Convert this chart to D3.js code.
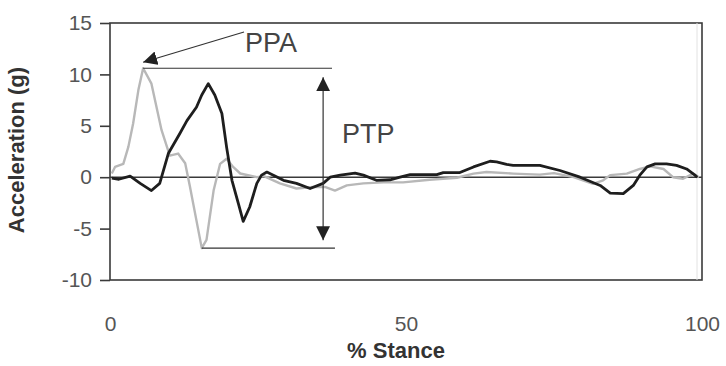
<!DOCTYPE html>
<html>
<head>
<meta charset="utf-8">
<script src="https://cdn.jsdelivr.net/npm/d3@7"></script>
<style>
  body { margin: 0; background: #fff; }
  svg { display: block; }
  text { font-family: "Liberation Sans", Arial, sans-serif; }
</style>
</head>
<body>
<svg id="chart" width="726" height="366"></svg>
<script>
// Acceleration vs % stance, two traces plus PPA / PTP annotation

const yTicks = [-10, -5, 0, 5, 10, 15];
const xTicks = [0, 50, 100];

// dark trace [% stance, g]
const darkTrace = [
  [0.3, -0.1], [1.5, -0.2], [3.4, 0.1], [5.1, -0.6], [7.0, -1.3], [8.4, -0.6],
  [9.85, 2.3], [11.8, 4.25], [13.0, 5.5], [14.6, 6.8], [15.5, 8.0], [16.6, 9.1],
  [17.7, 8.0], [18.9, 6.2], [19.7, 2.9], [20.6, -0.3], [21.7, -2.6], [22.5, -4.3],
  [23.6, -2.9], [24.8, -0.6], [25.6, 0.2], [26.5, 0.5], [27.6, 0.2], [29.3, -0.3],
  [31.5, -0.6], [33.8, -1.1], [36.0, -0.6], [37.2, 0.0], [38.9, 0.2], [41.4, 0.4],
  [42.8, 0.2], [45.0, -0.3], [47.3, -0.25], [49.0, 0.0], [50.7, 0.25], [55.2, 0.25],
  [56.3, 0.45], [59.1, 0.45], [61.4, 1.0], [64.2, 1.55], [65.3, 1.5], [67.0, 1.25],
  [68.1, 1.15], [72.6, 1.15], [76.0, 0.65], [79.4, 0.0], [82.8, -0.8], [84.5, -1.55],
  [86.7, -1.6], [88.4, -0.8], [89.5, 0.2], [90.7, 1.0], [92.1, 1.3], [94.0, 1.3],
  [95.7, 1.15], [97.4, 0.8], [98.8, 0.2], [99.2, 0.0]
];

// light trace [% stance, g]
const lightTrace = [
  [0.3, 0.36], [0.85, 1.0], [2.25, 1.3], [3.1, 2.95], [3.9, 5.2], [4.8, 8.5],
  [5.6, 10.6], [7.0, 9.1], [8.7, 4.6], [10.1, 2.1], [11.5, 2.3], [12.7, 1.36],
  [13.5, -0.9], [14.6, -4.2], [15.5, -6.9], [16.3, -6.1], [17.5, -1.3], [18.6, 1.3],
  [19.7, 1.8], [20.8, 1.0], [22.0, 0.36], [24.8, 0.0], [26.0, 0.1], [28.7, -0.6],
  [31.5, -1.1], [34.3, -0.95], [36.3, -0.95], [38.0, -1.3], [40.0, -0.8], [42.8, -0.6],
  [46.2, -0.5], [49.5, -0.5], [54.0, -0.25], [58.6, -0.05], [61.4, 0.35], [63.6, 0.5],
  [68.1, 0.35], [72.6, 0.25], [75.0, 0.4], [78.3, 0.0], [81.6, -0.65], [83.3, -0.3],
  [84.5, 0.2], [87.3, 0.35], [89.5, 0.8], [91.2, 1.05], [93.5, 0.8], [95.1, 0.0],
  [96.8, -0.15], [98.5, 0.35], [99.5, 0.0]
];

// annotation values
const ppaValue = 10.6;      // peak positive acceleration
const troughValue = -6.9;   // trough of light trace
const ppaLine = [5.6, 37.5];
const troughLine = [15.5, 38];
const ptpX = 36;

const svg = d3.select('#chart');

const x = d3.scaleLinear().domain([0, 100]).range([110, 702]);
const y = d3.scaleLinear().domain([-10, 15]).range([280, 23]);

const frameColor = '#3a3a3a';

// frame
svg.append('rect')
    .attr('x', x(0)).attr('y', y(15))
    .attr('width', x(100) - x(0)).attr('height', y(-10) - y(15))
    .attr('fill', 'none').attr('stroke', frameColor).attr('stroke-width', 1.6);

// faint inner line near right edge
svg.append('line')
    .attr('x1', x(100) - 5).attr('x2', x(100) - 5)
    .attr('y1', y(15)).attr('y2', y(-10))
    .attr('stroke', '#e2e2e2').attr('stroke-width', 1);

// y axis ticks + labels (plain hyphen minus like the original)
const yAxis = d3.axisLeft(y).tickValues(yTicks).tickSize(10).tickPadding(8)
    .tickFormat(d => String(d));
const yg = svg.append('g').attr('transform', `translate(${x(0)},0)`).call(yAxis);
yg.select('.domain').remove();
yg.selectAll('.tick line').attr('stroke', frameColor).attr('stroke-width', 1.6);
yg.selectAll('.tick text')
    .attr('font-size', 21).attr('fill', '#555')
    .attr('font-family', '"Liberation Sans", Arial, sans-serif');

// x tick labels (no tick marks)
const xAxis = d3.axisBottom(x).tickValues(xTicks).tickSize(0).tickPadding(36)
    .tickFormat(d => String(d));
const xg = svg.append('g').attr('transform', `translate(0,${y(-10)})`).call(xAxis);
xg.select('.domain').remove();
xg.selectAll('.tick text')
    .attr('font-size', 21).attr('fill', '#555')
    .attr('font-family', '"Liberation Sans", Arial, sans-serif');

// zero line
svg.append('line')
    .attr('x1', x(0)).attr('x2', x(100))
    .attr('y1', y(0)).attr('y2', y(0))
    .attr('stroke', frameColor).attr('stroke-width', 1.5);

// traces
const line = d3.line().x(d => x(d[0])).y(d => y(d[1]));

svg.append('path')
    .datum(lightTrace)
    .attr('d', line)
    .attr('fill', 'none')
    .attr('stroke', '#b8b8b8')
    .attr('stroke-width', 2.4)
    .attr('stroke-linejoin', 'round');

svg.append('path')
    .datum(darkTrace)
    .attr('d', line)
    .attr('fill', 'none')
    .attr('stroke', '#1e1e1e')
    .attr('stroke-width', 2.8)
    .attr('stroke-linejoin', 'round');

// annotation
const defs = svg.append('defs');
defs.append('marker')
    .attr('id', 'head')
    .attr('viewBox', '0 0 10 10')
    .attr('refX', 10).attr('refY', 5)
    .attr('markerWidth', 14).attr('markerHeight', 14)
    .attr('markerUnits', 'userSpaceOnUse')
    .attr('orient', 'auto-start-reverse')
    .append('path')
    .attr('d', 'M0,0 L10,5 L0,10 Z')
    .attr('fill', '#222');

const annot = svg.append('g').attr('stroke', '#333').attr('stroke-width', 1.2);

annot.append('line')
    .attr('x1', x(ppaLine[0])).attr('x2', x(ppaLine[1]))
    .attr('y1', y(ppaValue)).attr('y2', y(ppaValue));

annot.append('line')
    .attr('x1', x(troughLine[0])).attr('x2', x(troughLine[1]))
    .attr('y1', y(troughValue)).attr('y2', y(troughValue));

// PTP double arrow
annot.append('line')
    .attr('x1', x(ptpX)).attr('x2', x(ptpX))
    .attr('y1', y(ppaValue) + 9).attr('y2', y(troughValue) - 8)
    .attr('marker-start', 'url(#head)')
    .attr('marker-end', 'url(#head)');

// PPA pointer
annot.append('line')
    .attr('x1', 244).attr('y1', 32)
    .attr('x2', x(ppaLine[0])).attr('y2', y(ppaValue) - 6)
    .attr('marker-end', 'url(#head)');

svg.append('text')
    .attr('x', 245).attr('y', 52)
    .attr('font-size', 27).attr('fill', '#444')
    .text('PPA');

svg.append('text')
    .attr('x', 342).attr('y', 143)
    .attr('font-size', 27).attr('fill', '#444')
    .text('PTP');

// axis titles
svg.append('text')
    .attr('x', 396).attr('y', 358)
    .attr('text-anchor', 'middle')
    .attr('font-size', 22).attr('font-weight', 'bold').attr('fill', '#333')
    .text('% Stance');

svg.append('text')
    .attr('transform', 'translate(24,150) rotate(-90)')
    .attr('text-anchor', 'middle')
    .attr('font-size', 22).attr('font-weight', 'bold').attr('fill', '#333')
    .text('Acceleration (g)');
</script>
</body>
</html>
